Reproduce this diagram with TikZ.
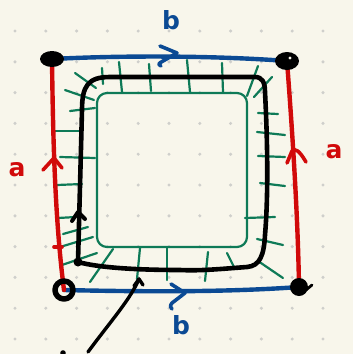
\documentclass[tikz,border=0pt]{standalone}
\usepackage{fontspec}
\setmainfont{DejaVu Sans}
\definecolor{bg}{HTML}{F8F6EB}
\definecolor{dotc}{HTML}{CFCFCB}
\definecolor{myred}{HTML}{D10A0A}
\definecolor{myblue}{HTML}{0B4A94}
\definecolor{mygreen}{HTML}{0E7A57}
\begin{document}
\begin{tikzpicture}[x=1pt,y=-1pt,line cap=round,line join=round,
  redl/.style={draw=myred,line width=4.4pt},
  bluel/.style={draw=myblue,line width=4.4pt},
  greenl/.style={draw=mygreen,line width=2.2pt},
  blackl/.style={draw=black,line width=4.6pt},
  lbl/.style={font=\bfseries\fontsize{25}{25}\selectfont,inner sep=0pt}]
\fill[bg] (0,0) rectangle (353,354);
\useasboundingbox (0,0) rectangle (353,354);
\foreach \i in {0,...,10}{\foreach \j in {0,...,10}{\fill[dotc] (15+30.8*\i,31+30.8*\j) circle (1.7pt);}}
% vertices
\coordinate (TL) at (52,59);
\coordinate (TR) at (287,61);
\coordinate (BL) at (64,290);
\coordinate (BR) at (299,287);
% green inner boundary
\draw[greenl,rounded corners=10pt] (97,93) rectangle (247,247);
% green hairs
\foreach \a/\b/\c/\d in {75/73/96/88, 65/90/94/100, 70/111/95/108, 102/68/103/84, 119/62/122/92,
  149/64/151/91, 187/60/190/92, 222/63/223/92, 258/66/247/96, 272/77/254/97,
  55/131/82/131, 60/157/95/158, 57/185/82/184, 58/218/76/217, 63/234/88/227, 60/247/93/237, 62/265/97/253,
  90/282/113/249, 140/248/137/279, 167/248/167/280, 208/252/205/281, 227/253/234/267, 258/261/283/278,
  258/113/278/114, 257/132/285/135, 258/156/285/157, 260/183/285/186, 245/218/275/217, 257/239/283/245}
  {\draw[greenl] (\a,\b) -- (\c,\d);}
% black loop
\coordinate (P) at (78,262);
\draw[blackl] (P) -- (82,110) .. controls (82,86) and (88,77) .. (110,77) -- (255,77)
  .. controls (262,77) and (265,82) .. (265,92) .. controls (268,150) and (268,200) .. (265,235)
  .. controls (264,255) and (260,266) .. (247,267) .. controls (220,269) and (200,271) .. (180,270)
  .. controls (140,270) and (100,268) .. (P);
\fill (P) circle (4.5pt);
\draw[blackl,line width=4pt] (72,221) -- (78,212) -- (85,219);
% sides
\draw[bluel] (TL) .. controls (130,55) and (220,56) .. (TR);
\draw[bluel,line width=3.6pt] (160,46) -- (177,53) -- (163,61) .. controls (158,64) .. (161,66);
\draw[bluel] (BL) .. controls (150,292) and (230,292) .. (BR);
\draw[bluel,line width=3.6pt] (171,284) -- (185,293) -- (172,303) .. controls (170,306) .. (172,309);
\draw[redl] (TL) .. controls (53,140) and (55,220) .. (BL);
\draw[redl,line width=3.6pt] (43,170) -- (54,158) -- (62,168);
\draw[redl,line width=3.6pt] (54,247) -- (62,247);
\draw[redl] (TR) .. controls (293,140) and (298,220) .. (BR);
\draw[redl,line width=3.6pt] (287,163) -- (292,151) .. controls (295,148) and (299,150) .. (306,162);
% vertex blobs
\fill (TL) ellipse (12pt and 8pt);
\fill (TR) ellipse (12pt and 9pt);
\fill[bg] (290,58) circle (1.6pt);
\draw[line width=5.5pt] (BL) circle (9pt);
\fill (BR) circle (9pt);
\draw[line width=2.8pt] (306,290) -- (312,285);
% labels
\node[lbl,text=myblue] (bt) at (171,20) {b};
\node[lbl,text=myblue] (bb) at (181,325) {b};
\node[lbl,text=myred] (al) at (17,170) {a};
\node[lbl,text=myred] (ar) at (334,152) {a};
% pointer arrow
\coordinate (S) at (88,352);
\coordinate (T) at (139,279);
\draw[black,line width=3.4pt] (S) .. controls (110,322) and (130,300) .. (T);
\draw[black,line width=3.4pt] (134,286) -- (T) -- (143,285);
\fill (63,353) circle (2.8pt);
\end{tikzpicture}
\end{document}
